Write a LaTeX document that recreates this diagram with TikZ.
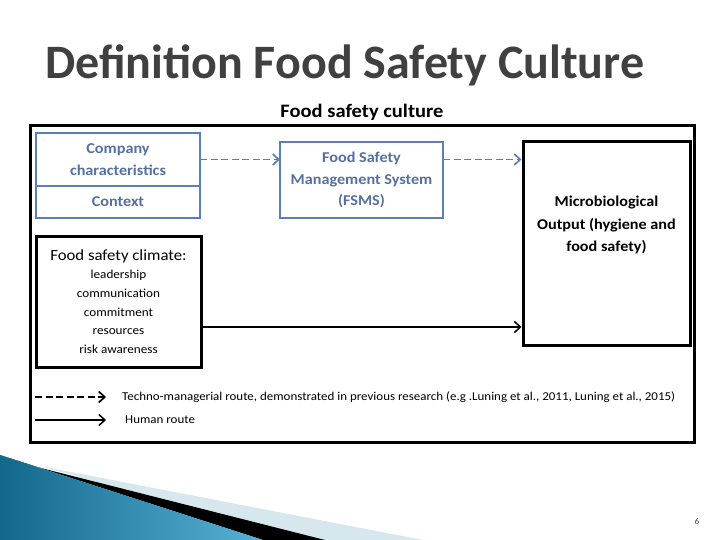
\documentclass[tikz,border=0pt]{standalone}
\usepackage{fontspec}
\setmainfont{Carlito}[FakeStretch=1.08]
\newfontfamily\titlefont{Carlito}
\usetikzlibrary{arrows.meta, positioning, calc}
\definecolor{boxblue}{RGB}{91,128,182}
\definecolor{textblue}{RGB}{84,112,160}
\definecolor{titlegray}{RGB}{64,64,64}
\definecolor{deepteal}{RGB}{18,104,140}
\definecolor{skyteal}{RGB}{88,178,214}
\definecolor{paleteal}{RGB}{214,232,238}
\tikzset{
  bluebox/.style={
    draw=boxblue, line width=2.2pt, rectangle, outer sep=0pt,
    text=textblue, align=center, font=\fontsize{15}{21.5}\selectfont\bfseries
  },
  blackbox/.style={
    draw, rectangle, line width=3pt, align=center
  },
  dashroute/.style={
    -{Straight Barb[length=6pt, width=11pt]}, line width=1.7pt,
    dash pattern=on 7pt off 3.5pt
  },
  humanroute/.style={
    -{Straight Barb[length=6pt, width=11pt]}, line width=1.5pt
  },
  legendtext/.style={
    anchor=west, inner xsep=0pt, font=\fontsize{12}{14}\selectfont
  }
}
\begin{document}
\begin{tikzpicture}[x=1pt, y=-1pt]
  \useasboundingbox (0,0) rectangle (720,540);
  % slide decoration
  \fill[paleteal] (40,466) -- (423,540) -- (300,540) -- cycle;
  \fill[black] (0,455) -- (33,466) -- (325,540) -- (263,540) -- cycle;
  \shade[left color=deepteal, right color=skyteal] (0,455) -- (263,540) -- (0,540) -- cycle;
  \node[text=titlegray, anchor=base west, inner sep=0pt, font=\titlefont\fontsize{48}{52}\selectfont\bfseries] (title) at (45,79) {Definition Food Safety Culture};
  \node[font=\fontsize{8.5}{10}\selectfont, text=darkgray] (pagenum) at (697,522) {6};

  % frame
  \node[blackbox, minimum width=664, minimum height=316] (culture) at (362,284) {};
  \node[font=\fontsize{19}{21}\selectfont\bfseries, above=0pt of culture.north] (culturelabel) {Food safety culture};

  % boxes
  \node[bluebox, minimum width=164, minimum height=53] (company) at (118,159.5) {Company\\characteristics};
  \node[bluebox, minimum width=164, minimum height=32, below=0pt of company] (context) {Context};
  \node[bluebox, minimum width=163, minimum height=76] (fsms) at (361.5,180) {Food Safety\\Management System\\(FSMS)};
  \node[blackbox, minimum width=167, minimum height=203] (output) at (606.5,243.5) {};
  \node[below=52pt of output.north, align=center, font=\fontsize{15}{22.5}\selectfont\bfseries] (outputlabel) {Microbiological\\Output (hygiene and\\food safety)};
  \node[blackbox, minimum width=165, minimum height=131, font=\fontsize{12.2}{18.6}\selectfont] (climate) at (118.5,301.5)
    {{\fontsize{15.5}{19}\selectfont Food safety climate:}\\leadership\\communication\\commitment\\resources\\risk awareness};

  % routes
  \draw[dashroute, boxblue] (company.east) -- (company.east -| fsms.west);
  \draw[dashroute, boxblue] (fsms.east |- company.east) -- (company.east -| output.west);
  \coordinate (humanstart) at ($(climate.east)+(0,25.5)$);
  \draw[humanroute] (humanstart) -- (humanstart -| output.west);

  % legend
  \node[legendtext] (techlabel) at (122,397) {Techno-managerial route, demonstrated in previous research (e.g .Luning et al., 2011, Luning et al., 2015)};
  \node[legendtext] (humanlabel) at (125,420) {Human route};
  \coordinate (techstart) at (35,397);
  \coordinate (humanleg) at (35,420);
  \draw[dashroute] (techstart) -- ($(techlabel.west)+(-16,0)$);
  \draw[humanroute] (humanleg) -- ($(humanlabel.west)+(-19,0)$);
\end{tikzpicture}
\end{document}
